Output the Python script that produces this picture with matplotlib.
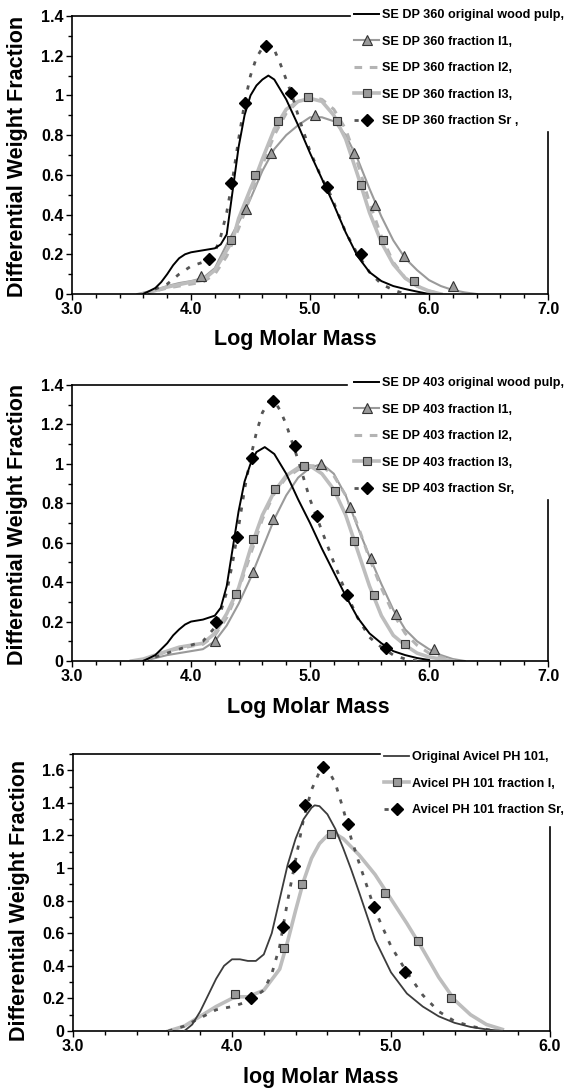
import matplotlib
matplotlib.use("Agg")
import matplotlib.pyplot as plt
from matplotlib.ticker import MultipleLocator
from matplotlib.lines import Line2D

plt.rcParams['font.family'] = ['Liberation Sans', 'DejaVu Sans']
plt.rcParams['font.weight'] = 'bold'
plt.rcParams['lines.solid_joinstyle'] = 'round'
plt.rcParams['lines.dash_joinstyle'] = 'round'

# ---------------- Panel 1 : SE DP 360 ----------------
p1_orig_x = [3.6, 3.7, 3.75, 3.8, 3.85, 3.9, 3.95, 4.0, 4.1, 4.2, 4.25, 4.3, 4.35, 4.4, 4.45, 4.5, 4.55, 4.6, 4.65, 4.7, 4.8, 4.9, 5.0, 5.1, 5.2, 5.3, 5.4, 5.5, 5.6, 5.7, 5.8, 5.9, 6.0]
p1_orig_y = [0.0, 0.03, 0.06, 0.10, 0.145, 0.18, 0.20, 0.21, 0.22, 0.23, 0.25, 0.30, 0.52, 0.74, 0.90, 1.00, 1.05, 1.08, 1.10, 1.08, 0.98, 0.85, 0.71, 0.58, 0.45, 0.31, 0.19, 0.11, 0.065, 0.04, 0.025, 0.012, 0.0]

p1_i1_x = [3.55, 3.7, 3.8, 3.9, 4.0, 4.1, 4.2, 4.3, 4.4, 4.5, 4.6, 4.7, 4.8, 4.9, 5.0, 5.1, 5.2, 5.3, 5.4, 5.5, 5.6, 5.7, 5.8, 5.9, 6.0, 6.1, 6.2, 6.3, 6.4]
p1_i1_y = [0.0, 0.02, 0.04, 0.055, 0.065, 0.08, 0.13, 0.25, 0.36, 0.48, 0.62, 0.73, 0.80, 0.85, 0.89, 0.89, 0.87, 0.80, 0.68, 0.53, 0.39, 0.27, 0.18, 0.12, 0.07, 0.04, 0.02, 0.008, 0.0]
p1_i1_mx = [4.08, 4.46, 4.67, 5.04, 5.37, 5.55, 5.79, 6.20]
p1_i1_my = [0.09, 0.43, 0.71, 0.90, 0.71, 0.45, 0.19, 0.04]

p1_i2_x = [3.6, 3.8, 4.0, 4.1, 4.2, 4.3, 4.4, 4.5, 4.6, 4.7, 4.8, 4.9, 5.0, 5.1, 5.2, 5.3, 5.4, 5.5, 5.6, 5.7, 5.8, 5.9, 6.0, 6.1]
p1_i2_y = [0.0, 0.03, 0.05, 0.06, 0.10, 0.19, 0.33, 0.49, 0.65, 0.80, 0.91, 0.97, 0.99, 0.98, 0.93, 0.83, 0.66, 0.46, 0.29, 0.16, 0.08, 0.04, 0.015, 0.0]

p1_i3_x = [3.6, 3.8, 4.0, 4.1, 4.2, 4.3, 4.35, 4.4, 4.5, 4.55, 4.6, 4.7, 4.8, 4.9, 5.0, 5.1, 5.2, 5.3, 5.4, 5.5, 5.6, 5.7, 5.8, 5.9, 6.0, 6.1]
p1_i3_y = [0.0, 0.035, 0.06, 0.07, 0.12, 0.22, 0.27, 0.38, 0.53, 0.60, 0.68, 0.83, 0.93, 0.97, 0.985, 0.97, 0.90, 0.78, 0.60, 0.41, 0.26, 0.15, 0.08, 0.04, 0.015, 0.0]
p1_i3_mx = [4.34, 4.54, 4.73, 4.98, 5.23, 5.43, 5.61, 5.87]
p1_i3_my = [0.27, 0.60, 0.87, 0.99, 0.87, 0.55, 0.27, 0.065]

p1_sr_x = [3.6, 3.8, 3.9, 4.0, 4.1, 4.2, 4.25, 4.3, 4.35, 4.4, 4.45, 4.5, 4.55, 4.6, 4.65, 4.7, 4.75, 4.8, 4.85, 4.9, 5.0, 5.1, 5.15, 5.2, 5.3, 5.4, 5.5, 5.6, 5.7, 5.8]
p1_sr_y = [0.0, 0.05, 0.10, 0.14, 0.16, 0.21, 0.29, 0.41, 0.58, 0.78, 0.96, 1.10, 1.19, 1.24, 1.26, 1.23, 1.16, 1.08, 1.00, 0.90, 0.72, 0.58, 0.53, 0.46, 0.31, 0.20, 0.11, 0.05, 0.02, 0.0]
p1_sr_mx = [4.15, 4.34, 4.45, 4.63, 4.84, 5.14, 5.43]
p1_sr_my = [0.175, 0.56, 0.96, 1.25, 1.01, 0.54, 0.20]

p1_labels = ["SE DP 360 original wood pulp,", "SE DP 360 fraction I1,", "SE DP 360 fraction I2,",
             "SE DP 360 fraction I3,", "SE DP 360 fraction Sr ,"]

# ---------------- Panel 2 : SE DP 403 ----------------
p2_orig_x = [3.6, 3.7, 3.75, 3.8, 3.85, 3.9, 3.95, 4.0, 4.1, 4.2, 4.25, 4.3, 4.35, 4.4, 4.45, 4.5, 4.55, 4.62, 4.7, 4.8, 4.9, 5.0, 5.1, 5.2, 5.3, 5.4, 5.5, 5.6, 5.7, 5.8, 5.9, 6.0]
p2_orig_y = [0.0, 0.03, 0.06, 0.09, 0.13, 0.16, 0.185, 0.20, 0.21, 0.23, 0.27, 0.38, 0.57, 0.76, 0.91, 1.00, 1.06, 1.085, 1.05, 0.95, 0.82, 0.70, 0.57, 0.45, 0.33, 0.22, 0.14, 0.09, 0.05, 0.03, 0.015, 0.005]

p2_i1_x = [3.6, 3.7, 3.8, 3.9, 4.0, 4.1, 4.2, 4.3, 4.4, 4.5, 4.6, 4.7, 4.8, 4.9, 5.0, 5.1, 5.2, 5.3, 5.4, 5.5, 5.6, 5.7, 5.8, 5.9, 6.0, 6.1, 6.2, 6.3]
p2_i1_y = [0.0, 0.015, 0.03, 0.04, 0.05, 0.06, 0.10, 0.18, 0.29, 0.42, 0.57, 0.72, 0.84, 0.93, 0.98, 1.00, 0.95, 0.84, 0.68, 0.53, 0.39, 0.26, 0.16, 0.10, 0.06, 0.03, 0.01, 0.0]
p2_i1_mx = [4.20, 4.52, 4.69, 5.09, 5.34, 5.51, 5.72, 6.04]
p2_i1_my = [0.10, 0.45, 0.72, 1.00, 0.78, 0.52, 0.24, 0.06]

p2_i2_x = [3.6, 3.8, 4.0, 4.1, 4.2, 4.3, 4.4, 4.5, 4.6, 4.7, 4.8, 4.9, 5.0, 5.1, 5.2, 5.3, 5.4, 5.5, 5.6, 5.7, 5.8, 5.9, 6.0, 6.1, 6.2]
p2_i2_y = [0.0, 0.05, 0.075, 0.085, 0.13, 0.22, 0.36, 0.54, 0.72, 0.85, 0.93, 0.97, 0.99, 0.99, 0.94, 0.84, 0.69, 0.52, 0.37, 0.24, 0.14, 0.08, 0.04, 0.02, 0.0]

p2_i3_x = [3.5, 3.6, 3.7, 3.8, 3.9, 4.0, 4.1, 4.2, 4.3, 4.4, 4.5, 4.6, 4.7, 4.8, 4.9, 5.0, 5.1, 5.2, 5.3, 5.4, 5.5, 5.6, 5.7, 5.8, 5.9, 6.0, 6.1, 6.2]
p2_i3_y = [0.0, 0.01, 0.03, 0.05, 0.07, 0.08, 0.09, 0.14, 0.24, 0.37, 0.57, 0.74, 0.86, 0.94, 0.98, 0.99, 0.95, 0.87, 0.74, 0.56, 0.38, 0.23, 0.13, 0.08, 0.04, 0.02, 0.01, 0.0]
p2_i3_mx = [4.38, 4.52, 4.71, 4.95, 5.21, 5.37, 5.54, 5.80]
p2_i3_my = [0.34, 0.62, 0.87, 0.99, 0.86, 0.61, 0.335, 0.085]

p2_sr_x = [3.6, 3.8, 3.9, 4.0, 4.1, 4.2, 4.25, 4.3, 4.35, 4.4, 4.45, 4.5, 4.55, 4.6, 4.65, 4.7, 4.75, 4.8, 4.85, 4.9, 5.0, 5.1, 5.2, 5.3, 5.4, 5.5, 5.6, 5.7, 5.8, 5.9]
p2_sr_y = [0.0, 0.04, 0.06, 0.08, 0.10, 0.17, 0.25, 0.35, 0.50, 0.68, 0.87, 1.03, 1.16, 1.26, 1.31, 1.32, 1.27, 1.20, 1.11, 1.02, 0.82, 0.66, 0.50, 0.35, 0.22, 0.12, 0.07, 0.03, 0.01, 0.0]
p2_sr_mx = [4.21, 4.39, 4.51, 4.69, 4.87, 5.06, 5.31, 5.64]
p2_sr_my = [0.20, 0.63, 1.03, 1.32, 1.09, 0.735, 0.333, 0.065]

p2_labels = ["SE DP 403 original wood pulp,", "SE DP 403 fraction I1,", "SE DP 403 fraction I2,",
             "SE DP 403 fraction I3,", "SE DP 403 fraction Sr,"]

# ---------------- Panel 3 : Avicel PH 101 ----------------
p3_orig_x = [3.7, 3.75, 3.8, 3.85, 3.9, 3.95, 4.0, 4.05, 4.1, 4.15, 4.2, 4.25, 4.3, 4.35, 4.4, 4.45, 4.5, 4.52, 4.55, 4.6, 4.65, 4.7, 4.75, 4.8, 4.9, 5.0, 5.1, 5.2, 5.3, 5.4, 5.5, 5.6, 5.7]
p3_orig_y = [0.0, 0.04, 0.12, 0.22, 0.32, 0.40, 0.44, 0.44, 0.43, 0.43, 0.47, 0.60, 0.81, 1.02, 1.18, 1.30, 1.37, 1.385, 1.38, 1.33, 1.24, 1.12, 0.99, 0.85, 0.56, 0.36, 0.23, 0.15, 0.09, 0.05, 0.025, 0.01, 0.0]

p3_i_x = [3.6, 3.7, 3.8, 3.9, 4.0, 4.05, 4.1, 4.2, 4.3, 4.35, 4.4, 4.45, 4.5, 4.55, 4.6, 4.65, 4.7, 4.8, 4.9, 5.0, 5.1, 5.2, 5.3, 5.4, 5.5, 5.6, 5.7]
p3_i_y = [0.0, 0.03, 0.09, 0.15, 0.20, 0.21, 0.21, 0.25, 0.38, 0.55, 0.74, 0.92, 1.06, 1.15, 1.20, 1.21, 1.18, 1.08, 0.96, 0.81, 0.66, 0.50, 0.33, 0.19, 0.10, 0.04, 0.01]
p3_i_mx = [4.02, 4.33, 4.44, 4.62, 4.96, 5.17, 5.38]
p3_i_my = [0.23, 0.51, 0.90, 1.21, 0.85, 0.55, 0.20]

p3_sr_x = [3.6, 3.7, 3.8, 3.9, 4.0, 4.1, 4.2, 4.25, 4.3, 4.35, 4.4, 4.45, 4.5, 4.55, 4.58, 4.6, 4.65, 4.7, 4.75, 4.8, 4.9, 5.0, 5.1, 5.2, 5.3, 5.4, 5.5, 5.6, 5.65]
p3_sr_y = [0.0, 0.03, 0.08, 0.13, 0.15, 0.18, 0.25, 0.35, 0.52, 0.80, 1.05, 1.30, 1.48, 1.59, 1.62, 1.61, 1.52, 1.36, 1.18, 1.03, 0.74, 0.52, 0.36, 0.22, 0.12, 0.06, 0.03, 0.01, 0.0]
p3_sr_mx = [4.12, 4.32, 4.39, 4.46, 4.57, 4.73, 4.89, 5.09]
p3_sr_my = [0.20, 0.64, 1.01, 1.385, 1.62, 1.27, 0.76, 0.36]

p3_labels = ["Original Avicel PH 101,", "Avicel PH 101 fraction I,", "Avicel PH 101 fraction Sr,"]

# ---------------- styles ----------------
BLACK = '#000000'
DARK = '#3c3c3c'
MID = '#9a9a9a'
LIGHT = '#b4b4b4'
LIGHT2 = '#bdbdbd'
SRC = '#555555'
W, H = 567, 1088

fig = plt.figure(figsize=(W / 100, H / 100), dpi=100)


def frac_rect(l, t, r, b):
    return [l / W, 1 - b / H, (r - l) / W, (b - t) / H]


def yfmt(v, p):
    if abs(v) < 1e-9:
        return "0"
    s = f"{v:.1f}"
    return s[:-2] if s.endswith(".0") else s


def style_axes(ax, xmax, ymax, top_end, right_top, xlabel, xlab_px, ylab_px):
    ax.set_xlim(3.0, xmax)
    ax.set_ylim(0, ymax)
    ax.xaxis.set_major_locator(MultipleLocator(1.0))
    ax.xaxis.set_minor_locator(MultipleLocator(0.2))
    ax.yaxis.set_major_locator(MultipleLocator(0.2))
    ax.yaxis.set_minor_locator(MultipleLocator(0.1))
    ax.xaxis.set_major_formatter(plt.FuncFormatter(lambda v, p: f"{v:.1f}"))
    ax.yaxis.set_major_formatter(plt.FuncFormatter(yfmt))
    ax.tick_params(axis='both', which='major', direction='out', length=4, width=1, labelsize=11.5, pad=2)
    ax.tick_params(axis='both', which='minor', direction='out', length=3, width=1)
    for lab in ax.get_xticklabels() + ax.get_yticklabels():
        lab.set_fontweight('bold')
    for s in ['left', 'bottom', 'top', 'right']:
        ax.spines[s].set_linewidth(1.2)
    ax.spines['top'].set_bounds(3.0, top_end)
    ax.spines['right'].set_bounds(0, right_top)
    ax.set_ylabel("Differential Weight Fraction", fontsize=15.5, fontweight='bold', va='center')
    ax.set_xlabel(xlabel, fontsize=15.5, fontweight='bold', va='center')
    ax.xaxis.set_label_coords(xlab_px[0] / W, 1 - xlab_px[1] / H, transform=fig.transFigure)
    ax.yaxis.set_label_coords(ylab_px[0] / W, 1 - ylab_px[1] / H, transform=fig.transFigure)


def legend_handles(specs):
    return [Line2D([], [], **s) for s in specs]


def draw_wood(ax, i1x, i1y, i2x, i2y, i3x, i3y, srx, sry, ox, oy, i1mx, i1my, i3mx, i3my, srmx, srmy):
    ax.plot(i1x, i1y, color=MID, lw=1.5, zorder=2)
    ax.plot(i2x, i2y, color=LIGHT, lw=2.2, ls=(0, (2.5, 2.5)), zorder=2)
    ax.plot(i3x, i3y, color=LIGHT2, lw=2.6, zorder=2)
    ax.plot(srx, sry, color=SRC, lw=2.0, ls=(0, (1.5, 3)), zorder=3)
    ax.plot(ox, oy, color=BLACK, lw=1.4, zorder=4)
    ax.plot(i1mx, i1my, ls='none', marker='^', ms=7, mfc=MID, mec='#333333', mew=0.8, zorder=5)
    ax.plot(i3mx, i3my, ls='none', marker='s', ms=6, mfc=MID, mec='#333333', mew=0.8, zorder=5)
    ax.plot(srmx, srmy, ls='none', marker='D', ms=6.5, mfc=BLACK, mec=BLACK, zorder=6)


specs_wood = [
    dict(color=BLACK, lw=1.4),
    dict(color=MID, lw=1.5, marker='^', ms=6.5, mfc=MID, mec='#333333', mew=0.8),
    dict(color=LIGHT, lw=2.2, ls=(0, (2.5, 2.5))),
    dict(color=LIGHT2, lw=2.6, marker='s', ms=6, mfc=MID, mec='#333333', mew=0.8),
    dict(color=SRC, lw=2.0, ls=(0, (1.5, 3)), marker='D', ms=6.5, mfc=BLACK, mec=BLACK),
]
specs_av = [
    dict(color=DARK, lw=1.3),
    dict(color=LIGHT2, lw=2.6, marker='s', ms=6, mfc=MID, mec='#333333', mew=0.8),
    dict(color=SRC, lw=2.0, ls=(0, (1.5, 3)), marker='D', ms=6.5, mfc=BLACK, mec=BLACK),
]

leg_kw = dict(frameon=False, prop=dict(size=9.1, weight='bold'), handlelength=2.0,
              handletextpad=0.2, labelspacing=1.15, borderpad=0, borderaxespad=0, loc='upper left')

# ---- Panel 1 ----
ax1 = fig.add_axes(frac_rect(72, 16, 548, 294))
draw_wood(ax1, p1_i1_x, p1_i1_y, p1_i2_x, p1_i2_y, p1_i3_x, p1_i3_y, p1_sr_x, p1_sr_y,
          p1_orig_x, p1_orig_y, p1_i1_mx, p1_i1_my, p1_i3_mx, p1_i3_my, p1_sr_mx, p1_sr_my)
style_axes(ax1, 7.0, 1.4, 5.34, 0.815, "Log Molar Mass", (295, 340), (18, 156))
fig.legend(legend_handles(specs_wood), p1_labels, bbox_transform=fig.transFigure,
           bbox_to_anchor=(354 / W, 1 - 9 / H), **leg_kw)

# ---- Panel 2 ----
ax2 = fig.add_axes(frac_rect(72, 385, 548, 661))
draw_wood(ax2, p2_i1_x, p2_i1_y, p2_i2_x, p2_i2_y, p2_i3_x, p2_i3_y, p2_sr_x, p2_sr_y,
          p2_orig_x, p2_orig_y, p2_i1_mx, p2_i1_my, p2_i3_mx, p2_i3_my, p2_sr_mx, p2_sr_my)
style_axes(ax2, 7.0, 1.4, 5.31, 0.817, "Log Molar Mass", (308, 707), (18, 524))
fig.legend(legend_handles(specs_wood), p2_labels, bbox_transform=fig.transFigure,
           bbox_to_anchor=(354 / W, 1 - 377 / H), **leg_kw)

# ---- Panel 3 ----
ax3 = fig.add_axes(frac_rect(73, 754, 550, 1031))
ax3.plot(p3_i_x, p3_i_y, color=LIGHT2, lw=2.6, zorder=2)
ax3.plot(p3_sr_x, p3_sr_y, color=SRC, lw=2.0, ls=(0, (1.5, 3)), zorder=3)
ax3.plot(p3_orig_x, p3_orig_y, color=DARK, lw=1.3, zorder=4)
ax3.plot(p3_i_mx, p3_i_my, ls='none', marker='s', ms=6, mfc=MID, mec='#333333', mew=0.8, zorder=5)
ax3.plot(p3_sr_mx, p3_sr_my, ls='none', marker='D', ms=6.5, mfc=BLACK, mec=BLACK, zorder=6)
style_axes(ax3, 6.0, 1.7, 4.93, 1.25, "log Molar Mass", (321, 1078), (20, 900))
fig.legend(legend_handles(specs_av), p3_labels, bbox_transform=fig.transFigure,
           bbox_to_anchor=(384 / W, 1 - 751 / H), **leg_kw)

fig.savefig("out.png", dpi=100)
